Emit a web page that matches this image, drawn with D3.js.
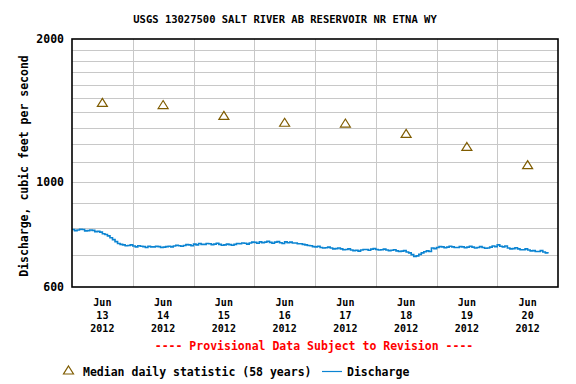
<!DOCTYPE html>
<html>
<head>
<meta charset="utf-8">
<script src="https://cdn.jsdelivr.net/npm/d3@7"></script>
<style>
  html, body { margin: 0; padding: 0; background: #fff; }
  svg { display: block; }
  text { font-family: "DejaVu Sans Mono", "Liberation Mono", monospace; font-weight: bold; }
</style>
</head>
<body>
<svg id="chart" width="576" height="384"></svg>
<script>
// ---- data ----
const title = "USGS 13027500 SALT RIVER AB RESERVOIR NR ETNA WY";
const yLabel = "Discharge, cubic feet per second";
const dayLabels = ["13", "14", "15", "16", "17", "18", "19", "20"];
const medianDays = ["2012-06-13", "2012-06-14", "2012-06-15", "2012-06-16", "2012-06-17", "2012-06-18", "2012-06-19", "2012-06-20"];
const medianValues = [1470, 1455, 1380, 1335, 1330, 1265, 1187, 1087];
const yTickValues = [600, 1000, 2000];
const yGridValues = [700, 800, 900, 1000, 1100, 1200, 1300, 1400, 1500, 1600, 1700, 1800, 1900];
// discharge, hourly starting 2012-06-13 00:00
const dischargeStart = "2012-06-13T00:00:00Z";
const dischargeValues = [
  793, 789, 791, 794, 793, 788, 789, 791, 790, 785,
  786, 783, 777, 774, 769, 762, 755, 748, 741, 738,
  736, 733, 734, 736, 732, 729, 733, 731, 730, 727,
  731, 729, 729, 731, 730, 727, 728, 730, 731, 729,
  732, 735, 733, 731, 734, 737, 736, 733, 739, 736,
  741, 738, 738, 741, 740, 737, 739, 742, 738, 735,
  736, 739, 737, 735, 738, 741, 740, 743, 742, 739,
  743, 746, 745, 742, 747, 744, 746, 749, 745, 742,
  746, 748, 744, 741, 747, 744, 746, 743, 743, 740,
  740, 738, 736, 734, 733, 730, 729, 731, 727, 725,
  726, 728, 725, 722, 723, 725, 722, 719, 720, 722,
  718, 716, 717, 714, 718, 720, 720, 717, 721, 723,
  720, 718, 719, 721, 718, 716, 717, 719, 715, 713,
  714, 716, 711, 708, 702, 696, 698, 703, 708, 712,
  715, 713, 725, 723, 727, 730, 729, 726, 728, 731,
  729, 727, 727, 730, 729, 726, 728, 731, 728, 725,
  727, 730, 727, 724, 725, 728, 732, 730, 736, 731,
  729, 732, 725, 722, 723, 726, 722, 719, 719, 722,
  718, 715, 716, 713, 713, 716, 711, 708, 706
];

// ---- layout ----
const svg = d3.select("#chart");
const M = { left: 72, right: 558, top: 39, bottom: 287 };

const x = d3.scaleUtc()
  .domain([new Date("2012-06-13T00:00:00Z"), new Date("2012-06-21T00:00:00Z")])
  .range([M.left, M.right]);
const y = d3.scaleLog().domain([600, 2000]).range([M.bottom, M.top]);

// grid
const g = svg.append("g");
g.selectAll("line.hg").data(yGridValues).join("line")
  .attr("x1", M.left).attr("x2", M.right)
  .attr("y1", d => Math.round(y(d)) + 0.5).attr("y2", d => Math.round(y(d)) + 0.5)
  .attr("stroke", "#c8c8c8").attr("stroke-width", 1);
const dayTicks = x.ticks(d3.utcDay.every(1)).filter(d => d > x.domain()[0] && d < x.domain()[1]);
g.selectAll("line.vg").data(dayTicks).join("line")
  .attr("x1", d => Math.round(x(d)) + 0.5).attr("x2", d => Math.round(x(d)) + 0.5)
  .attr("y1", M.top).attr("y2", M.bottom)
  .attr("stroke", "#c8c8c8").attr("stroke-width", 1);

// discharge line
const t0 = new Date(dischargeStart).getTime();
const dis = dischargeValues.map((v, i) => ({ t: new Date(t0 + i * 3600 * 1000), v }));
svg.append("path").datum(dis)
  .attr("fill", "none").attr("stroke", "#0b84d2").attr("stroke-width", 1.6)
  .attr("d", d3.line().x(d => x(d.t)).y(d => y(d.v)).curve(d3.curveStepAfter));

// median triangles
const tri = (cx, cy) => `M${cx},${cy - 4} L${cx + 5},${cy + 4} L${cx - 5},${cy + 4} Z`;
const med = medianDays.map((d, i) => ({ t: new Date(d + "T12:00:00Z"), v: medianValues[i] }));
svg.selectAll("path.tri").data(med).join("path")
  .attr("d", d => tri(x(d.t), y(d.v)))
  .attr("fill", "none").attr("stroke", "#7f5c00").attr("stroke-width", 1.2);

// frame
svg.append("rect")
  .attr("x", M.left).attr("y", M.top)
  .attr("width", M.right - M.left).attr("height", M.bottom - M.top)
  .attr("fill", "none").attr("stroke", "#000").attr("stroke-width", 1.6);

// y ticks
svg.selectAll("text.yt").data(yTickValues).join("text")
  .attr("x", 64).attr("y", d => y(d) + 4)
  .attr("text-anchor", "end").attr("font-size", 11.5)
  .text(d => d);

// x labels
const labelG = svg.selectAll("g.xl").data(medianDays).join("g")
  .attr("transform", (d) => `translate(${x(new Date(d + "T12:00:00Z"))},0)`);
labelG.append("text").attr("y", 306).attr("text-anchor", "middle").attr("font-size", 10).text("Jun");
labelG.append("text").attr("y", 319).attr("text-anchor", "middle").attr("font-size", 10).text((d, i) => dayLabels[i]);
labelG.append("text").attr("y", 331.5).attr("text-anchor", "middle").attr("font-size", 10).text(d => d.slice(0, 4));

// title
svg.append("text").attr("x", 285).attr("y", 23).attr("text-anchor", "middle")
  .attr("font-size", 10.5).text(title);

// y axis label
svg.append("text").attr("transform", "translate(28,166) rotate(-90)")
  .attr("text-anchor", "middle").attr("font-size", 11.5).text(yLabel);

// provisional
svg.append("text").attr("x", 314).attr("y", 350).attr("text-anchor", "middle")
  .attr("font-size", 11.5).attr("fill", "#ff0000")
  .text("---- Provisional Data Subject to Revision ----");

// legend
svg.append("path").attr("d", tri(68.5, 370)).attr("fill", "none").attr("stroke", "#7f5c00").attr("stroke-width", 1.2);
svg.append("text").attr("x", 83).attr("y", 375.5).attr("font-size", 11.5).text("Median daily statistic (58 years)");
svg.append("line").attr("x1", 322).attr("x2", 342).attr("y1", 371.5).attr("y2", 371.5)
  .attr("stroke", "#0b84d2").attr("stroke-width", 1.2);
svg.append("text").attr("x", 347).attr("y", 375.5).attr("font-size", 11.5).text("Discharge");
</script>
</body>
</html>
